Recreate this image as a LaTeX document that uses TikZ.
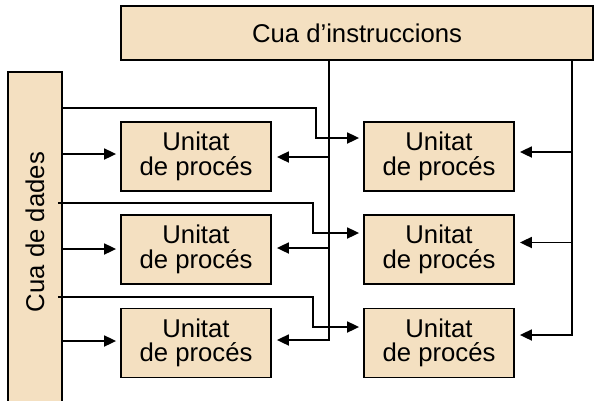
\documentclass[tikz,border=0pt]{standalone}
\usepackage{fontspec}
\setmainfont{Liberation Sans}
\usetikzlibrary{arrows.meta}
\definecolor{boxfill}{RGB}{244,224,193}
\begin{document}
\begin{tikzpicture}[x=1pt,y=-1pt,
  box/.style={draw=black, line width=1.8pt, fill=boxfill, inner sep=0pt,
    align=center, font=\fontsize{25.7}{24.5}\selectfont},
  unit/.style={box, minimum width=150pt, minimum height=69pt},
  wire/.style={line width=1.8pt},
  arr/.style={wire, -{Triangle[length=12pt,width=11pt]}, shorten >=4pt},
  arrR/.style={arr, shorten >=5pt}]
\useasboundingbox (0,0) rectangle (595,400);

% queues
\node[box, minimum width=472pt, minimum height=54pt] (instr) at (357,33) {Cua d’instruccions};
\node[box, minimum width=54pt, minimum height=330pt] (dades) at (35,237)
  {\rotatebox{90}{\hspace{10pt}Cua de dades}};

% processing units
\node[unit] (L1) at (196,156.5) {Unitat\\de procés};
\node[unit] (L2) at (196,249.5) {Unitat\\de procés};
\node[unit] (L3) at (196,343)   {Unitat\\de procés};
\node[unit] (R1) at (439,156.5) {Unitat\\de procés};
\node[unit] (R2) at (439,249.5) {Unitat\\de procés};
\node[unit] (R3) at (439,343)   {Unitat\\de procés};

% entry points on the units
\path ([yshift=2.5pt]L1.west) coordinate (L1d)
      ([yshift=0.5pt]L2.west) coordinate (L2d)
      ([yshift=2pt]L3.west)   coordinate (L3d)
      ([yshift=-0.5pt]L1.east) coordinate (L1i)
      ([yshift=1.5pt]L2.east) coordinate (L2i)
      ([yshift=3pt]L3.east)   coordinate (L3i)
      ([yshift=18.5pt]R1.west) coordinate (R1d)
      ([yshift=16.5pt]R2.west) coordinate (R2d)
      ([yshift=16pt]R3.west)   coordinate (R3d)
      ([yshift=4.5pt]R1.east) coordinate (R1i)
      ([yshift=7pt]R2.east)   coordinate (R2i)
      ([yshift=8pt]R3.east)   coordinate (R3i);

% instruction buses
\path (instr.south west) ++(209,0) coordinate (ibusA)
      (instr.south west) ++(452,0) coordinate (ibusB);
\draw[arrR] (ibusA) |- (L3i);
\draw[arrR] (ibusA |- L1i) -- (L1i);
\draw[arrR] (ibusA |- L2i) -- (L2i);
\draw[arrR] (ibusB) |- (R3i);
\draw[arrR] (ibusB |- R1i) -- (R1i);
\draw[arrR] (ibusB |- R2i) -- (R2i);

% data to the left units
\draw[arr] (dades.east |- L1d) -- (L1d);
\draw[arr] (dades.east |- L2d) -- (L2d);
\draw[arr] (dades.east |- L3d) -- (L3d);

% data to the right units
\coordinate (j1) at (316,108);
\coordinate (j2) at (313,203);
\coordinate (j3) at (313,297);
\coordinate (dL) at ([xshift=-5pt]dades.east);
\draw[arr] (dades.east |- j1) -- (j1) |- (R1d);
\draw[arr] (dL |- j2) -- (j2) |- (R2d);
\draw[arr] (dL |- j3) -- (j3) |- (R3d);
\end{tikzpicture}
\end{document}
